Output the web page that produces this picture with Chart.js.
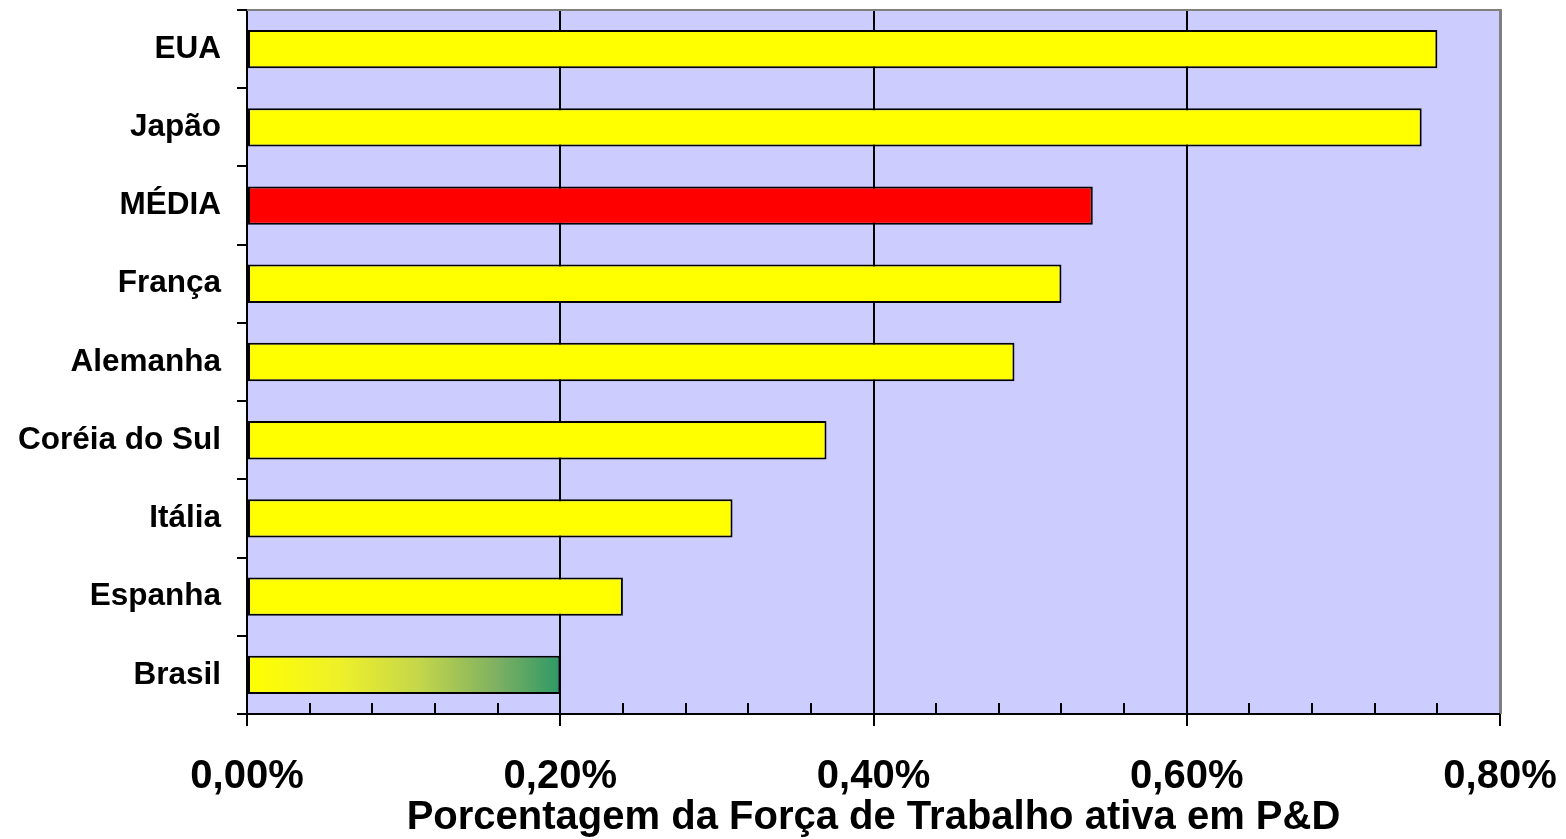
<!DOCTYPE html>
<html><head><meta charset="utf-8">
<script src="https://cdn.jsdelivr.net/npm/chart.js@4.4.1/dist/chart.umd.min.js"></script>
<style>html,body{margin:0;padding:0;background:#fff;}#wrap{width:1566px;height:839px;}</style>
</head><body><div id="wrap"><canvas id="c" width="1566" height="839"></canvas></div>
<script>
const categories = ["EUA","Japão","MÉDIA","França","Alemanha","Coréia do Sul","Itália","Espanha","Brasil"];
const values = [0.76, 0.75, 0.54, 0.52, 0.49, 0.37, 0.31, 0.24, 0.20];
const xTicks = [0, 0.2, 0.4, 0.6, 0.8];
const xTitle = "Porcentagem da Força de Trabalho ativa em P&D";

const isMajor = v => Math.abs(v/0.2 - Math.round(v/0.2)) < 1e-6;

function barColor(ctx){
  const name = categories[ctx.dataIndex];
  if (name === "MÉDIA") return "#FF0000";
  if (name === "Brasil") {
    const chart = ctx.chart; const xs = chart.scales.x;
    if (!xs) return "#FFFF00";
    const x0 = xs.getPixelForValue(0), x1 = xs.getPixelForValue(values[ctx.dataIndex]);
    const g = chart.ctx.createLinearGradient(x0, 0, x1, 0);
    g.addColorStop(0, "#FFFF00");
    g.addColorStop(0.3, "#EEF02A");
    g.addColorStop(0.55, "#C4D64A");
    g.addColorStop(0.8, "#7DB062");
    g.addColorStop(1, "#2E9966");
    return g;
  }
  return "#FFFF00";
}

const bgPlugin = {
  id: 'bg',
  beforeDraw(chart){
    const a = chart.chartArea, c = chart.ctx;
    c.save(); c.fillStyle = "#CCCCFF"; c.fillRect(a.left, a.top, a.right-a.left, a.bottom-a.top); c.restore();
  },
  afterDraw(chart){
    const a = chart.chartArea, c = chart.ctx, xs = chart.scales.x;
    c.save();
    c.strokeStyle = "#000"; c.lineWidth = 2;
    xs.ticks.forEach(t => {
      if (!isMajor(t.value)) {
        const px = Math.round(xs.getPixelForValue(t.value));
        c.beginPath(); c.moveTo(px, a.bottom); c.lineTo(px, a.bottom-11); c.stroke();
      }
    });
    c.strokeStyle = "#808080"; c.lineWidth = 2;
    c.beginPath(); c.moveTo(a.left, a.top); c.lineTo(a.right+1, a.top); c.lineTo(a.right+1, a.bottom); c.stroke();
    c.restore();
  }
};

new Chart(document.getElementById('c'), {
  type: 'bar',
  data: { labels: categories, datasets: [{ data: values, backgroundColor: barColor, borderColor: "#000", borderWidth: 2, borderSkipped: false, categoryPercentage: 1, barPercentage: 0.49 }] },
  options: {
    indexAxis: 'y', responsive: false, animation: false,
    layout: { padding: { top: 10, right: 66, left: 0, bottom: 0 } },
    plugins: { legend: { display: false }, tooltip: { enabled: false } },
    scales: {
      x: {
        min: 0, max: 0.8,
        afterFit: s => { s.height = 125; s.paddingLeft = 0; s.paddingRight = 0; },
        ticks: { stepSize: 0.04, autoSkip: false, maxRotation: 0, color: "#000", padding: 27,
          font: { family: "Liberation Sans, Arial, sans-serif", size: 40, weight: 'bold' },
          callback: v => isMajor(v) ? v.toFixed(2).replace('.', ',') + '%' : '' },
        grid: { drawTicks: true, tickLength: 12, lineWidth: 2,
          color: ctx => (ctx.tick && isMajor(ctx.tick.value)) ? (Math.abs(ctx.tick.value-0.8)<1e-6 ? "#808080" : "#000") : "rgba(0,0,0,0)",
          tickColor: ctx => (ctx.tick && isMajor(ctx.tick.value)) ? "#000" : "rgba(0,0,0,0)" },
        border: { display: true, color: "#000", width: 2 },
        title: { display: true, text: xTitle, color: "#000", padding: { top: 0, bottom: -3 },
          font: { family: "Liberation Sans, Arial, sans-serif", size: 40, weight: 'bold' } }
      },
      y: {
        afterFit: s => { s.width = 247; s.paddingTop = 0; s.paddingBottom = 0; },
        ticks: { color: "#000", padding: 16, font: { family: "Liberation Sans, Arial, sans-serif", size: 31.5, weight: 'bold' } },
        grid: { offset: true, drawOnChartArea: false, drawTicks: true, tickLength: 10, color: "#000", lineWidth: 2 },
        border: { display: true, color: "#000", width: 2 }
      }
    }
  },
  plugins: [bgPlugin]
});
</script></body></html>
